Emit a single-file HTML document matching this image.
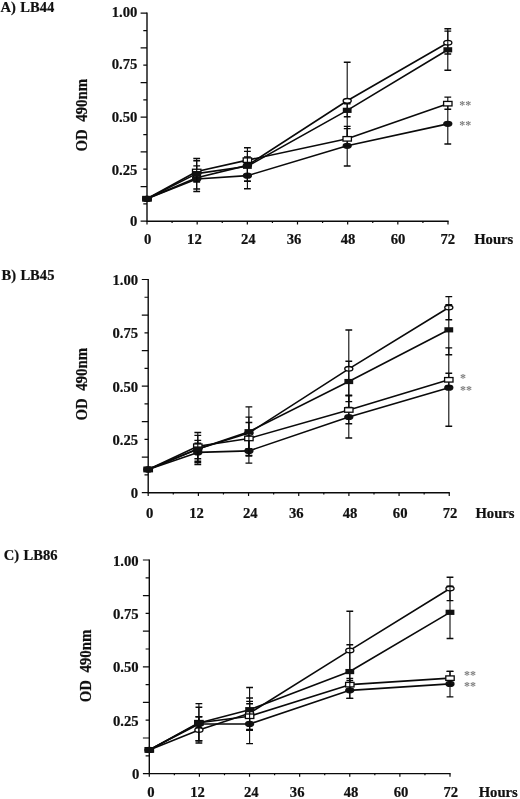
<!DOCTYPE html>
<html><head><meta charset="utf-8"><title>Figure</title>
<style>html,body{margin:0;padding:0;background:#fff;}body{width:520px;height:799px;overflow:hidden;}svg{display:block;filter:blur(0.25px);}</style>
</head><body>
<svg width="520" height="799" viewBox="0 0 520 799">
<rect width="520" height="799" fill="#fff"/>
<g>
<text word-spacing="0.7" transform="translate(0.60,11.50) scale(0.985,1.040)" text-anchor="start" font-family="Liberation Serif, serif" font-weight="bold" stroke="#0a0a0a" stroke-width="0.2" font-size="14.80" fill="#111" xml:space="preserve">A) LB44</text>
<text transform="translate(86.90,115.25) rotate(-90) scale(0.985,1.040)" text-anchor="middle" font-family="Liberation Serif, serif" font-weight="bold" stroke="#0a0a0a" stroke-width="0.2" font-size="15.10" fill="#111" xml:space="preserve">OD  490nm</text>
<path d="M147.00 12.60 V221.20 H448.60" fill="none" stroke="#0a0a0a" stroke-width="1.4"/>
<path d="M147.00 13.20 h-6.40M147.00 30.53 h-3.70M147.00 47.87 h-6.40M147.00 65.20 h-3.70M147.00 82.53 h-6.40M147.00 99.87 h-3.70M147.00 117.20 h-6.40M147.00 134.53 h-3.70M147.00 151.87 h-6.40M147.00 169.20 h-3.70M147.00 186.53 h-6.40M147.00 203.87 h-3.70M147.00 221.20 h-6.40M147.00 221.20 v3.20M172.08 221.20 v1.70M197.17 221.20 v3.20M222.25 221.20 v1.70M247.33 221.20 v3.20M272.42 221.20 v1.70M297.50 221.20 v3.20M322.58 221.20 v1.70M347.67 221.20 v3.20M372.75 221.20 v1.70M397.83 221.20 v3.20M422.92 221.20 v1.70M448.00 221.20 v3.20" fill="none" stroke="#0a0a0a" stroke-width="1.2"/>
<text transform="translate(137.30,16.95) scale(0.985,1.040)" text-anchor="end" font-family="Liberation Serif, serif" font-weight="bold" stroke="#0a0a0a" stroke-width="0.2" font-size="14.90" fill="#111" xml:space="preserve">1.00</text>
<text transform="translate(137.30,68.70) scale(0.985,1.040)" text-anchor="end" font-family="Liberation Serif, serif" font-weight="bold" stroke="#0a0a0a" stroke-width="0.2" font-size="14.90" fill="#111" xml:space="preserve">0.75</text>
<text transform="translate(137.30,122.25) scale(0.985,1.040)" text-anchor="end" font-family="Liberation Serif, serif" font-weight="bold" stroke="#0a0a0a" stroke-width="0.2" font-size="14.90" fill="#111" xml:space="preserve">0.50</text>
<text transform="translate(137.30,174.70) scale(0.985,1.040)" text-anchor="end" font-family="Liberation Serif, serif" font-weight="bold" stroke="#0a0a0a" stroke-width="0.2" font-size="14.90" fill="#111" xml:space="preserve">0.25</text>
<text transform="translate(137.30,226.30) scale(0.985,1.040)" text-anchor="end" font-family="Liberation Serif, serif" font-weight="bold" stroke="#0a0a0a" stroke-width="0.2" font-size="14.90" fill="#111" xml:space="preserve">0</text>
<text transform="translate(147.60,243.50) scale(0.985,1.040)" text-anchor="middle" font-family="Liberation Serif, serif" font-weight="bold" stroke="#0a0a0a" stroke-width="0.2" font-size="14.90" fill="#111" xml:space="preserve">0</text>
<text transform="translate(194.37,243.50) scale(0.985,1.040)" text-anchor="middle" font-family="Liberation Serif, serif" font-weight="bold" stroke="#0a0a0a" stroke-width="0.2" font-size="14.90" fill="#111" xml:space="preserve">12</text>
<text transform="translate(248.23,243.50) scale(0.985,1.040)" text-anchor="middle" font-family="Liberation Serif, serif" font-weight="bold" stroke="#0a0a0a" stroke-width="0.2" font-size="14.90" fill="#111" xml:space="preserve">24</text>
<text transform="translate(294.10,243.50) scale(0.985,1.040)" text-anchor="middle" font-family="Liberation Serif, serif" font-weight="bold" stroke="#0a0a0a" stroke-width="0.2" font-size="14.90" fill="#111" xml:space="preserve">36</text>
<text transform="translate(347.97,243.50) scale(0.985,1.040)" text-anchor="middle" font-family="Liberation Serif, serif" font-weight="bold" stroke="#0a0a0a" stroke-width="0.2" font-size="14.90" fill="#111" xml:space="preserve">48</text>
<text transform="translate(398.03,243.50) scale(0.985,1.040)" text-anchor="middle" font-family="Liberation Serif, serif" font-weight="bold" stroke="#0a0a0a" stroke-width="0.2" font-size="14.90" fill="#111" xml:space="preserve">60</text>
<text transform="translate(447.80,243.50) scale(0.985,1.040)" text-anchor="middle" font-family="Liberation Serif, serif" font-weight="bold" stroke="#0a0a0a" stroke-width="0.2" font-size="14.90" fill="#111" xml:space="preserve">72</text>
<text transform="translate(474.20,243.50) scale(0.985,1.040)" text-anchor="start" font-family="Liberation Serif, serif" font-weight="bold" stroke="#0a0a0a" stroke-width="0.2" font-size="14.90" fill="#111" xml:space="preserve">Hours</text>
<polyline points="147.00,198.74 196.70,177.79 247.40,165.35 347.20,100.77 447.80,42.74" fill="none" stroke="#0a0a0a" stroke-width="1.6" stroke-linejoin="round"/>
<path d="M196.70 174.50 V181.00M247.40 147.70 V181.30M347.20 62.20 V139.40M447.80 31.10 V54.00" fill="none" stroke="#0a0a0a" stroke-width="1.1"/>
<path d="M193.30 174.50 h6.8M193.30 181.00 h6.8M244.00 147.70 h6.8M244.00 181.30 h6.8M343.80 62.20 h6.8M343.80 139.40 h6.8M444.40 31.10 h6.8M444.40 54.00 h6.8" fill="none" stroke="#0a0a0a" stroke-width="1.4"/>
<ellipse cx="147.00" cy="198.74" rx="4.05" ry="2.3" fill="#fff" stroke="#0a0a0a" stroke-width="1.35"/>
<ellipse cx="196.70" cy="177.79" rx="4.05" ry="2.3" fill="#fff" stroke="#0a0a0a" stroke-width="1.35"/>
<ellipse cx="247.40" cy="165.35" rx="4.05" ry="2.3" fill="#fff" stroke="#0a0a0a" stroke-width="1.35"/>
<ellipse cx="347.20" cy="100.77" rx="4.05" ry="2.3" fill="#fff" stroke="#0a0a0a" stroke-width="1.35"/>
<ellipse cx="447.80" cy="42.74" rx="4.05" ry="2.3" fill="#fff" stroke="#0a0a0a" stroke-width="1.35"/>
<polyline points="147.00,198.74 196.70,178.98 247.40,175.65 347.20,145.80 447.80,123.86" fill="none" stroke="#0a0a0a" stroke-width="1.6" stroke-linejoin="round"/>
<path d="M196.70 165.90 V191.50M247.40 162.50 V188.80M347.20 126.40 V166.00M447.80 103.60 V144.00" fill="none" stroke="#0a0a0a" stroke-width="1.1"/>
<path d="M193.30 165.90 h6.8M193.30 191.50 h6.8M244.00 162.50 h6.8M244.00 188.80 h6.8M343.80 126.40 h6.8M343.80 166.00 h6.8M444.40 103.60 h6.8M444.40 144.00 h6.8" fill="none" stroke="#0a0a0a" stroke-width="1.4"/>
<ellipse cx="147.00" cy="198.74" rx="4.65" ry="3.1" fill="#111"/>
<ellipse cx="196.70" cy="178.98" rx="4.65" ry="3.1" fill="#111"/>
<ellipse cx="247.40" cy="175.65" rx="4.65" ry="3.1" fill="#111"/>
<ellipse cx="347.20" cy="145.80" rx="4.65" ry="3.1" fill="#111"/>
<ellipse cx="447.80" cy="123.86" rx="4.65" ry="3.1" fill="#111"/>
<polyline points="147.00,198.74 196.70,171.49 247.40,160.15 347.20,138.83 447.80,103.68" fill="none" stroke="#0a0a0a" stroke-width="1.6" stroke-linejoin="round"/>
<path d="M196.70 160.80 V182.00M247.40 157.00 V162.00M347.20 128.60 V146.00M447.80 97.10 V109.20" fill="none" stroke="#0a0a0a" stroke-width="1.1"/>
<path d="M193.30 160.80 h6.8M193.30 182.00 h6.8M244.00 157.00 h6.8M244.00 162.00 h6.8M343.80 128.60 h6.8M343.80 146.00 h6.8M444.40 97.10 h6.8M444.40 109.20 h6.8" fill="none" stroke="#0a0a0a" stroke-width="1.4"/>
<rect x="142.80" y="196.49" width="8.4" height="4.5" fill="#fff" stroke="#0a0a0a" stroke-width="1.3"/>
<rect x="192.50" y="169.24" width="8.4" height="4.5" fill="#fff" stroke="#0a0a0a" stroke-width="1.3"/>
<rect x="243.20" y="157.90" width="8.4" height="4.5" fill="#fff" stroke="#0a0a0a" stroke-width="1.3"/>
<rect x="343.00" y="136.58" width="8.4" height="4.5" fill="#fff" stroke="#0a0a0a" stroke-width="1.3"/>
<rect x="443.60" y="101.43" width="8.4" height="4.5" fill="#fff" stroke="#0a0a0a" stroke-width="1.3"/>
<polyline points="147.00,198.74 196.70,173.61 247.40,166.29 347.20,110.34 447.80,49.81" fill="none" stroke="#0a0a0a" stroke-width="1.6" stroke-linejoin="round"/>
<path d="M196.70 158.50 V189.00M247.40 151.40 V181.30M347.20 103.80 V116.80M447.80 28.70 V70.30" fill="none" stroke="#0a0a0a" stroke-width="1.1"/>
<path d="M193.30 158.50 h6.8M193.30 189.00 h6.8M244.00 151.40 h6.8M244.00 181.30 h6.8M343.80 103.80 h6.8M343.80 116.80 h6.8M444.40 28.70 h6.8M444.40 70.30 h6.8" fill="none" stroke="#0a0a0a" stroke-width="1.4"/>
<rect x="142.60" y="196.14" width="8.8" height="5.2" fill="#111"/>
<rect x="192.30" y="171.01" width="8.8" height="5.2" fill="#111"/>
<rect x="243.00" y="163.69" width="8.8" height="5.2" fill="#111"/>
<rect x="342.80" y="107.74" width="8.8" height="5.2" fill="#111"/>
<rect x="443.40" y="47.21" width="8.8" height="5.2" fill="#111"/>
<text x="459.2" y="109.4" font-family="Liberation Serif, serif" font-size="12" font-weight="bold" fill="#7e7e7e">**</text>
<text x="459.2" y="129.2" font-family="Liberation Serif, serif" font-size="12" font-weight="bold" fill="#7e7e7e">**</text>
</g>
<g>
<text word-spacing="0.7" transform="translate(1.50,280.30) scale(0.985,1.040)" text-anchor="start" font-family="Liberation Serif, serif" font-weight="bold" stroke="#0a0a0a" stroke-width="0.2" font-size="14.80" fill="#111" xml:space="preserve">B) LB45</text>
<text transform="translate(87.40,384.25) rotate(-90) scale(0.985,1.040)" text-anchor="middle" font-family="Liberation Serif, serif" font-weight="bold" stroke="#0a0a0a" stroke-width="0.2" font-size="15.10" fill="#111" xml:space="preserve">OD  490nm</text>
<path d="M148.20 278.90 V492.70 H449.85" fill="none" stroke="#0a0a0a" stroke-width="1.4"/>
<path d="M148.20 279.50 h-6.40M148.20 297.27 h-3.70M148.20 315.03 h-6.40M148.20 332.80 h-3.70M148.20 350.57 h-6.40M148.20 368.33 h-3.70M148.20 386.10 h-6.40M148.20 403.87 h-3.70M148.20 421.63 h-6.40M148.20 439.40 h-3.70M148.20 457.17 h-6.40M148.20 474.93 h-3.70M148.20 492.70 h-6.40M148.20 492.70 v3.20M173.29 492.70 v1.70M198.38 492.70 v3.20M223.46 492.70 v1.70M248.55 492.70 v3.20M273.64 492.70 v1.70M298.73 492.70 v3.20M323.81 492.70 v1.70M348.90 492.70 v3.20M373.99 492.70 v1.70M399.07 492.70 v3.20M424.16 492.70 v1.70M449.25 492.70 v3.20" fill="none" stroke="#0a0a0a" stroke-width="1.2"/>
<text transform="translate(138.10,285.00) scale(0.985,1.040)" text-anchor="end" font-family="Liberation Serif, serif" font-weight="bold" stroke="#0a0a0a" stroke-width="0.2" font-size="14.90" fill="#111" xml:space="preserve">1.00</text>
<text transform="translate(138.10,338.30) scale(0.985,1.040)" text-anchor="end" font-family="Liberation Serif, serif" font-weight="bold" stroke="#0a0a0a" stroke-width="0.2" font-size="14.90" fill="#111" xml:space="preserve">0.75</text>
<text transform="translate(138.10,391.60) scale(0.985,1.040)" text-anchor="end" font-family="Liberation Serif, serif" font-weight="bold" stroke="#0a0a0a" stroke-width="0.2" font-size="14.90" fill="#111" xml:space="preserve">0.50</text>
<text transform="translate(138.10,444.90) scale(0.985,1.040)" text-anchor="end" font-family="Liberation Serif, serif" font-weight="bold" stroke="#0a0a0a" stroke-width="0.2" font-size="14.90" fill="#111" xml:space="preserve">0.25</text>
<text transform="translate(138.10,498.20) scale(0.985,1.040)" text-anchor="end" font-family="Liberation Serif, serif" font-weight="bold" stroke="#0a0a0a" stroke-width="0.2" font-size="14.90" fill="#111" xml:space="preserve">0</text>
<text transform="translate(149.70,517.50) scale(0.985,1.040)" text-anchor="middle" font-family="Liberation Serif, serif" font-weight="bold" stroke="#0a0a0a" stroke-width="0.2" font-size="14.90" fill="#111" xml:space="preserve">0</text>
<text transform="translate(196.47,517.50) scale(0.985,1.040)" text-anchor="middle" font-family="Liberation Serif, serif" font-weight="bold" stroke="#0a0a0a" stroke-width="0.2" font-size="14.90" fill="#111" xml:space="preserve">12</text>
<text transform="translate(250.35,517.50) scale(0.985,1.040)" text-anchor="middle" font-family="Liberation Serif, serif" font-weight="bold" stroke="#0a0a0a" stroke-width="0.2" font-size="14.90" fill="#111" xml:space="preserve">24</text>
<text transform="translate(296.23,517.50) scale(0.985,1.040)" text-anchor="middle" font-family="Liberation Serif, serif" font-weight="bold" stroke="#0a0a0a" stroke-width="0.2" font-size="14.90" fill="#111" xml:space="preserve">36</text>
<text transform="translate(350.10,517.50) scale(0.985,1.040)" text-anchor="middle" font-family="Liberation Serif, serif" font-weight="bold" stroke="#0a0a0a" stroke-width="0.2" font-size="14.90" fill="#111" xml:space="preserve">48</text>
<text transform="translate(400.18,517.50) scale(0.985,1.040)" text-anchor="middle" font-family="Liberation Serif, serif" font-weight="bold" stroke="#0a0a0a" stroke-width="0.2" font-size="14.90" fill="#111" xml:space="preserve">60</text>
<text transform="translate(449.95,517.50) scale(0.985,1.040)" text-anchor="middle" font-family="Liberation Serif, serif" font-weight="bold" stroke="#0a0a0a" stroke-width="0.2" font-size="14.90" fill="#111" xml:space="preserve">72</text>
<text transform="translate(475.45,517.50) scale(0.985,1.040)" text-anchor="start" font-family="Liberation Serif, serif" font-weight="bold" stroke="#0a0a0a" stroke-width="0.2" font-size="14.90" fill="#111" xml:space="preserve">Hours</text>
<polyline points="148.20,469.46 197.80,448.99 248.90,433.00 348.80,368.83 448.80,307.54" fill="none" stroke="#0a0a0a" stroke-width="1.6" stroke-linejoin="round"/>
<path d="M197.80 432.50 V462.70M248.90 417.10 V448.70M348.80 330.00 V407.40M448.80 296.60 V319.70" fill="none" stroke="#0a0a0a" stroke-width="1.1"/>
<path d="M194.40 432.50 h6.8M194.40 462.70 h6.8M245.50 417.10 h6.8M245.50 448.70 h6.8M345.40 330.00 h6.8M345.40 407.40 h6.8M445.40 296.60 h6.8M445.40 319.70 h6.8" fill="none" stroke="#0a0a0a" stroke-width="1.4"/>
<ellipse cx="148.20" cy="469.46" rx="4.05" ry="2.3" fill="#fff" stroke="#0a0a0a" stroke-width="1.35"/>
<ellipse cx="197.80" cy="448.99" rx="4.05" ry="2.3" fill="#fff" stroke="#0a0a0a" stroke-width="1.35"/>
<ellipse cx="248.90" cy="433.00" rx="4.05" ry="2.3" fill="#fff" stroke="#0a0a0a" stroke-width="1.35"/>
<ellipse cx="348.80" cy="368.83" rx="4.05" ry="2.3" fill="#fff" stroke="#0a0a0a" stroke-width="1.35"/>
<ellipse cx="448.80" cy="307.54" rx="4.05" ry="2.3" fill="#fff" stroke="#0a0a0a" stroke-width="1.35"/>
<polyline points="148.20,469.46 197.80,452.41 248.90,450.91 348.80,417.01 448.80,387.70" fill="none" stroke="#0a0a0a" stroke-width="1.6" stroke-linejoin="round"/>
<path d="M197.80 443.30 V461.30M248.90 438.90 V463.10M348.80 395.30 V438.00M448.80 347.90 V426.30" fill="none" stroke="#0a0a0a" stroke-width="1.1"/>
<path d="M194.40 443.30 h6.8M194.40 461.30 h6.8M245.50 438.90 h6.8M245.50 463.10 h6.8M345.40 395.30 h6.8M345.40 438.00 h6.8M445.40 347.90 h6.8M445.40 426.30 h6.8" fill="none" stroke="#0a0a0a" stroke-width="1.4"/>
<ellipse cx="148.20" cy="469.46" rx="4.65" ry="3.1" fill="#111"/>
<ellipse cx="197.80" cy="452.41" rx="4.65" ry="3.1" fill="#111"/>
<ellipse cx="248.90" cy="450.91" rx="4.65" ry="3.1" fill="#111"/>
<ellipse cx="348.80" cy="417.01" rx="4.65" ry="3.1" fill="#111"/>
<ellipse cx="448.80" cy="387.70" rx="4.65" ry="3.1" fill="#111"/>
<polyline points="148.20,469.46 197.80,446.22 248.90,438.44 348.80,409.98 448.80,379.81" fill="none" stroke="#0a0a0a" stroke-width="1.6" stroke-linejoin="round"/>
<path d="M197.80 440.40 V458.80M248.90 422.50 V455.40M348.80 395.90 V423.80M448.80 373.20 V386.20" fill="none" stroke="#0a0a0a" stroke-width="1.1"/>
<path d="M194.40 440.40 h6.8M194.40 458.80 h6.8M245.50 422.50 h6.8M245.50 455.40 h6.8M345.40 395.90 h6.8M345.40 423.80 h6.8M445.40 373.20 h6.8M445.40 386.20 h6.8" fill="none" stroke="#0a0a0a" stroke-width="1.4"/>
<rect x="144.00" y="467.21" width="8.4" height="4.5" fill="#fff" stroke="#0a0a0a" stroke-width="1.3"/>
<rect x="193.60" y="443.97" width="8.4" height="4.5" fill="#fff" stroke="#0a0a0a" stroke-width="1.3"/>
<rect x="244.70" y="436.19" width="8.4" height="4.5" fill="#fff" stroke="#0a0a0a" stroke-width="1.3"/>
<rect x="344.60" y="407.73" width="8.4" height="4.5" fill="#fff" stroke="#0a0a0a" stroke-width="1.3"/>
<rect x="444.60" y="377.56" width="8.4" height="4.5" fill="#fff" stroke="#0a0a0a" stroke-width="1.3"/>
<polyline points="148.20,469.46 197.80,448.99 248.90,431.72 348.80,381.52 448.80,329.82" fill="none" stroke="#0a0a0a" stroke-width="1.6" stroke-linejoin="round"/>
<path d="M197.80 435.40 V464.60M248.90 406.90 V456.00M348.80 361.20 V401.60M448.80 304.70 V354.80" fill="none" stroke="#0a0a0a" stroke-width="1.1"/>
<path d="M194.40 435.40 h6.8M194.40 464.60 h6.8M245.50 406.90 h6.8M245.50 456.00 h6.8M345.40 361.20 h6.8M345.40 401.60 h6.8M445.40 304.70 h6.8M445.40 354.80 h6.8" fill="none" stroke="#0a0a0a" stroke-width="1.4"/>
<rect x="143.80" y="466.86" width="8.8" height="5.2" fill="#111"/>
<rect x="193.40" y="446.39" width="8.8" height="5.2" fill="#111"/>
<rect x="244.50" y="429.12" width="8.8" height="5.2" fill="#111"/>
<rect x="344.40" y="378.92" width="8.8" height="5.2" fill="#111"/>
<rect x="444.40" y="327.22" width="8.8" height="5.2" fill="#111"/>
<text x="460.1" y="382.4" font-family="Liberation Serif, serif" font-size="12" font-weight="bold" fill="#7e7e7e">*</text>
<text x="460.1" y="393.6" font-family="Liberation Serif, serif" font-size="12" font-weight="bold" fill="#7e7e7e">**</text>
</g>
<g>
<text word-spacing="0.7" transform="translate(3.80,560.40) scale(0.985,1.040)" text-anchor="start" font-family="Liberation Serif, serif" font-weight="bold" stroke="#0a0a0a" stroke-width="0.2" font-size="14.80" fill="#111" xml:space="preserve">C) LB86</text>
<text transform="translate(90.50,666.00) rotate(-90) scale(0.985,1.040)" text-anchor="middle" font-family="Liberation Serif, serif" font-weight="bold" stroke="#0a0a0a" stroke-width="0.2" font-size="15.10" fill="#111" xml:space="preserve">OD  490nm</text>
<path d="M149.30 559.40 V773.60 H450.60" fill="none" stroke="#0a0a0a" stroke-width="1.4"/>
<path d="M149.30 560.00 h-6.40M149.30 577.80 h-3.70M149.30 595.60 h-6.40M149.30 613.40 h-3.70M149.30 631.20 h-6.40M149.30 649.00 h-3.70M149.30 666.80 h-6.40M149.30 684.60 h-3.70M149.30 702.40 h-6.40M149.30 720.20 h-3.70M149.30 738.00 h-6.40M149.30 755.80 h-3.70M149.30 773.60 h-6.40M149.30 773.60 v3.20M174.36 773.60 v1.70M199.42 773.60 v3.20M224.48 773.60 v1.70M249.53 773.60 v3.20M274.59 773.60 v1.70M299.65 773.60 v3.20M324.71 773.60 v1.70M349.77 773.60 v3.20M374.82 773.60 v1.70M399.88 773.60 v3.20M424.94 773.60 v1.70M450.00 773.60 v3.20" fill="none" stroke="#0a0a0a" stroke-width="1.2"/>
<text transform="translate(138.70,565.50) scale(0.985,1.040)" text-anchor="end" font-family="Liberation Serif, serif" font-weight="bold" stroke="#0a0a0a" stroke-width="0.2" font-size="14.90" fill="#111" xml:space="preserve">1.00</text>
<text transform="translate(138.70,618.90) scale(0.985,1.040)" text-anchor="end" font-family="Liberation Serif, serif" font-weight="bold" stroke="#0a0a0a" stroke-width="0.2" font-size="14.90" fill="#111" xml:space="preserve">0.75</text>
<text transform="translate(138.70,672.30) scale(0.985,1.040)" text-anchor="end" font-family="Liberation Serif, serif" font-weight="bold" stroke="#0a0a0a" stroke-width="0.2" font-size="14.90" fill="#111" xml:space="preserve">0.50</text>
<text transform="translate(138.70,725.70) scale(0.985,1.040)" text-anchor="end" font-family="Liberation Serif, serif" font-weight="bold" stroke="#0a0a0a" stroke-width="0.2" font-size="14.90" fill="#111" xml:space="preserve">0.25</text>
<text transform="translate(139.40,779.10) scale(0.985,1.040)" text-anchor="end" font-family="Liberation Serif, serif" font-weight="bold" stroke="#0a0a0a" stroke-width="0.2" font-size="14.90" fill="#111" xml:space="preserve">0</text>
<text transform="translate(150.80,797.10) scale(0.985,1.040)" text-anchor="middle" font-family="Liberation Serif, serif" font-weight="bold" stroke="#0a0a0a" stroke-width="0.2" font-size="14.90" fill="#111" xml:space="preserve">0</text>
<text transform="translate(197.52,797.10) scale(0.985,1.040)" text-anchor="middle" font-family="Liberation Serif, serif" font-weight="bold" stroke="#0a0a0a" stroke-width="0.2" font-size="14.90" fill="#111" xml:space="preserve">12</text>
<text transform="translate(251.33,797.10) scale(0.985,1.040)" text-anchor="middle" font-family="Liberation Serif, serif" font-weight="bold" stroke="#0a0a0a" stroke-width="0.2" font-size="14.90" fill="#111" xml:space="preserve">24</text>
<text transform="translate(297.15,797.10) scale(0.985,1.040)" text-anchor="middle" font-family="Liberation Serif, serif" font-weight="bold" stroke="#0a0a0a" stroke-width="0.2" font-size="14.90" fill="#111" xml:space="preserve">36</text>
<text transform="translate(350.97,797.10) scale(0.985,1.040)" text-anchor="middle" font-family="Liberation Serif, serif" font-weight="bold" stroke="#0a0a0a" stroke-width="0.2" font-size="14.90" fill="#111" xml:space="preserve">48</text>
<text transform="translate(400.98,797.10) scale(0.985,1.040)" text-anchor="middle" font-family="Liberation Serif, serif" font-weight="bold" stroke="#0a0a0a" stroke-width="0.2" font-size="14.90" fill="#111" xml:space="preserve">60</text>
<text transform="translate(450.70,797.10) scale(0.985,1.040)" text-anchor="middle" font-family="Liberation Serif, serif" font-weight="bold" stroke="#0a0a0a" stroke-width="0.2" font-size="14.90" fill="#111" xml:space="preserve">72</text>
<text transform="translate(478.70,797.10) scale(0.985,1.040)" text-anchor="start" font-family="Liberation Serif, serif" font-weight="bold" stroke="#0a0a0a" stroke-width="0.2" font-size="14.90" fill="#111" xml:space="preserve">Hours</text>
<polyline points="149.30,749.89 198.90,729.92 249.60,713.15 349.80,650.44 450.00,588.52" fill="none" stroke="#0a0a0a" stroke-width="1.6" stroke-linejoin="round"/>
<path d="M198.90 716.80 V740.70M249.60 698.00 V729.40M349.80 611.30 V689.50M450.00 577.20 V600.60" fill="none" stroke="#0a0a0a" stroke-width="1.1"/>
<path d="M195.50 716.80 h6.8M195.50 740.70 h6.8M246.20 698.00 h6.8M246.20 729.40 h6.8M346.40 611.30 h6.8M346.40 689.50 h6.8M446.60 577.20 h6.8M446.60 600.60 h6.8" fill="none" stroke="#0a0a0a" stroke-width="1.4"/>
<ellipse cx="149.30" cy="749.89" rx="4.05" ry="2.3" fill="#fff" stroke="#0a0a0a" stroke-width="1.35"/>
<ellipse cx="198.90" cy="729.92" rx="4.05" ry="2.3" fill="#fff" stroke="#0a0a0a" stroke-width="1.35"/>
<ellipse cx="249.60" cy="713.15" rx="4.05" ry="2.3" fill="#fff" stroke="#0a0a0a" stroke-width="1.35"/>
<ellipse cx="349.80" cy="650.44" rx="4.05" ry="2.3" fill="#fff" stroke="#0a0a0a" stroke-width="1.35"/>
<ellipse cx="450.00" cy="588.52" rx="4.05" ry="2.3" fill="#fff" stroke="#0a0a0a" stroke-width="1.35"/>
<polyline points="149.30,749.89 198.90,724.04 249.60,723.94 349.80,690.36 450.00,683.89" fill="none" stroke="#0a0a0a" stroke-width="1.6" stroke-linejoin="round"/>
<path d="M198.90 707.30 V740.70M249.60 703.80 V743.60M349.80 680.50 V698.40M450.00 671.40 V696.90" fill="none" stroke="#0a0a0a" stroke-width="1.1"/>
<path d="M195.50 707.30 h6.8M195.50 740.70 h6.8M246.20 703.80 h6.8M246.20 743.60 h6.8M346.40 680.50 h6.8M346.40 698.40 h6.8M446.60 671.40 h6.8M446.60 696.90 h6.8" fill="none" stroke="#0a0a0a" stroke-width="1.4"/>
<ellipse cx="149.30" cy="749.89" rx="4.65" ry="3.1" fill="#111"/>
<ellipse cx="198.90" cy="724.04" rx="4.65" ry="3.1" fill="#111"/>
<ellipse cx="249.60" cy="723.94" rx="4.65" ry="3.1" fill="#111"/>
<ellipse cx="349.80" cy="690.36" rx="4.65" ry="3.1" fill="#111"/>
<ellipse cx="450.00" cy="683.89" rx="4.65" ry="3.1" fill="#111"/>
<polyline points="149.30,749.89 198.90,722.76 249.60,716.25 349.80,684.66 450.00,678.16" fill="none" stroke="#0a0a0a" stroke-width="1.6" stroke-linejoin="round"/>
<path d="M198.90 716.80 V727.50M249.60 701.40 V730.20M349.80 678.40 V690.80M450.00 671.40 V684.80" fill="none" stroke="#0a0a0a" stroke-width="1.1"/>
<path d="M195.50 716.80 h6.8M195.50 727.50 h6.8M246.20 701.40 h6.8M246.20 730.20 h6.8M346.40 678.40 h6.8M346.40 690.80 h6.8M446.60 671.40 h6.8M446.60 684.80 h6.8" fill="none" stroke="#0a0a0a" stroke-width="1.4"/>
<rect x="145.10" y="747.64" width="8.4" height="4.5" fill="#fff" stroke="#0a0a0a" stroke-width="1.3"/>
<rect x="194.70" y="720.51" width="8.4" height="4.5" fill="#fff" stroke="#0a0a0a" stroke-width="1.3"/>
<rect x="245.40" y="714.00" width="8.4" height="4.5" fill="#fff" stroke="#0a0a0a" stroke-width="1.3"/>
<rect x="345.60" y="682.41" width="8.4" height="4.5" fill="#fff" stroke="#0a0a0a" stroke-width="1.3"/>
<rect x="445.80" y="675.91" width="8.4" height="4.5" fill="#fff" stroke="#0a0a0a" stroke-width="1.3"/>
<polyline points="149.30,749.89 198.90,723.08 249.60,709.67 349.80,671.56 450.00,612.33" fill="none" stroke="#0a0a0a" stroke-width="1.6" stroke-linejoin="round"/>
<path d="M198.90 703.60 V743.00M249.60 687.50 V730.40M349.80 644.70 V698.40M450.00 586.10 V638.50" fill="none" stroke="#0a0a0a" stroke-width="1.1"/>
<path d="M195.50 703.60 h6.8M195.50 743.00 h6.8M246.20 687.50 h6.8M246.20 730.40 h6.8M346.40 644.70 h6.8M346.40 698.40 h6.8M446.60 586.10 h6.8M446.60 638.50 h6.8" fill="none" stroke="#0a0a0a" stroke-width="1.4"/>
<rect x="144.90" y="747.29" width="8.8" height="5.2" fill="#111"/>
<rect x="194.50" y="720.48" width="8.8" height="5.2" fill="#111"/>
<rect x="245.20" y="707.07" width="8.8" height="5.2" fill="#111"/>
<rect x="345.40" y="668.96" width="8.8" height="5.2" fill="#111"/>
<rect x="445.60" y="609.73" width="8.8" height="5.2" fill="#111"/>
<text x="464.0" y="678.7" font-family="Liberation Serif, serif" font-size="12" font-weight="bold" fill="#7e7e7e">**</text>
<text x="464.0" y="689.9" font-family="Liberation Serif, serif" font-size="12" font-weight="bold" fill="#7e7e7e">**</text>
</g>
</svg></body></html>
